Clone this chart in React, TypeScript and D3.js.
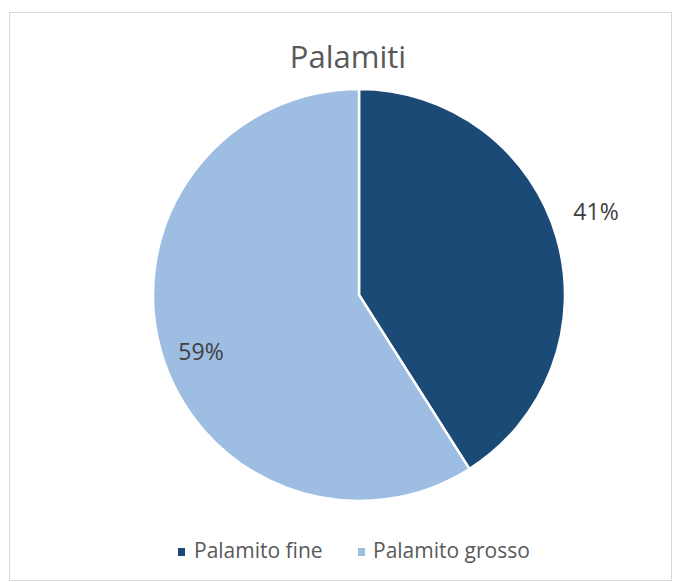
import React from "react";
import * as d3 from "d3";

const categories = ["Palamito fine", "Palamito grosso"];
const values = [41, 59];
const labels = ["41%", "59%"];
const colors = ["#1b4a77", "#9dbde3"];
const title = "Palamiti";

export default function App() {
  const W = 674, H = 582;
  const cx = 359, cy = 295, r = 206;
  const pie = d3.pie<number>().sort(null)(values);
  const arc = d3.arc<d3.PieArcDatum<number>>().innerRadius(0).outerRadius(r);
  const font = "'Open Sans', 'Noto Sans', sans-serif";
  const labelPos = [
    [596, 211],
    [201, 351],
  ];
  return (
    <svg width={W} height={H} style={{ position: "absolute", left: 0, top: 0 }}>
      <rect x={0} y={0} width={W} height={H} fill="#fff" />
      <rect x={9.5} y={12.5} width={662} height={568} fill="#fff" stroke="#d9d9d9" strokeWidth={1} />
      <text x={348} y={68} textAnchor="middle" fontFamily={font} fontSize={31} fill="#595959">{title}</text>
      <g transform={`translate(${cx},${cy})`}>
        {pie.map((d, i) => (
          <path key={i} d={arc(d) || ""} fill={colors[i]} stroke="#fff" strokeWidth={2.5} />
        ))}
      </g>
      {pie.map((d, i) => (
        <text key={i} x={labelPos[i][0]} y={labelPos[i][1]} textAnchor="middle" dominantBaseline="central"
          fontFamily={font} fontSize={23} fill="#404040">{labels[i]}</text>
      ))}
      <g fontFamily={font} fontSize={21} fill="#595959">
        <rect x={178} y={548} width={7} height={8} fill={colors[0]} />
        <text x={194} y={558}>{categories[0]}</text>
        <rect x={358} y={548} width={7} height={8} fill={colors[1]} />
        <text x={373} y={558}>{categories[1]}</text>
      </g>
    </svg>
  );
}
